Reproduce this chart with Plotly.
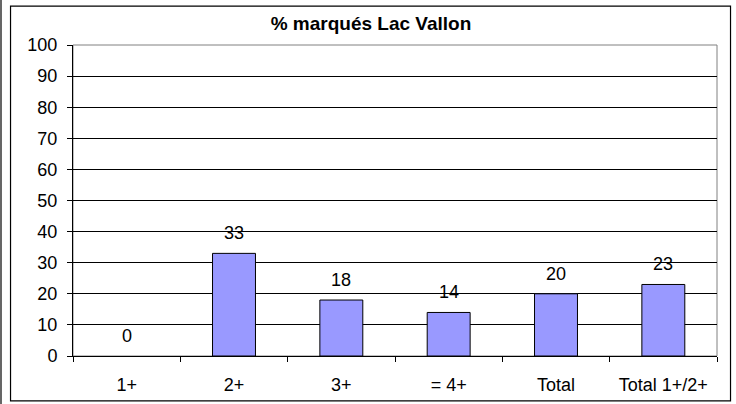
import plotly.graph_objects as go

categories = ["1+", "2+", "3+", "= 4+", "Total", "Total 1+/2+"]
values = [0, 33, 18, 14, 20, 23]
y_ticks = [0, 10, 20, 30, 40, 50, 60, 70, 80, 90, 100]

FONT = "Liberation Sans, Arial, sans-serif"
TEXT_SIZE = 18

fig = go.Figure()
fig.add_trace(go.Bar(
    x=categories,
    y=values,
    marker=dict(
        color="#9999FF",
        # empty bars get no outline
        line=dict(color="#000000", width=[1 if v > 0 else 0 for v in values]),
    ),
    width=0.4,
    hoverinfo="x+y",
))

# value labels above each bar
for c, v in zip(categories, values):
    fig.add_annotation(
        x=c, y=v, text=str(v), showarrow=False,
        yanchor="middle", yshift=20,
        font=dict(family=FONT, size=TEXT_SIZE, color="#000000"),
    )

shapes = [
    # plot-area border (grey)
    dict(type="rect", xref="paper", yref="paper", x0=0, x1=1, y0=0, y1=1,
         line=dict(color="#808080", width=1), layer="below"),
    # outer chart frame
    dict(type="rect", xref="paper", yref="paper",
         x0=-0.0970, x1=1.0210, y0=-0.1445, y1=1.1252,
         line=dict(color="#000000", width=1.2), layer="below"),
    # page edge line on the far left
    dict(type="line", xref="paper", yref="paper",
         x0=-0.1118, x1=-0.1118, y0=-0.16, y1=1.16,
         line=dict(color="#000000", width=1.2)),
]

fig.update_layout(
    width=736, height=404,
    margin=dict(l=73, r=19, t=45, b=47.5),
    paper_bgcolor="#FFFFFF",
    plot_bgcolor="#FFFFFF",
    showlegend=False,
    title=dict(
        text="<b>% marqués Lac Vallon</b>",
        x=371 / 736, xref="container", xanchor="center",
        y=1 - 23 / 404, yref="container", yanchor="middle",
        font=dict(family=FONT, size=19, color="#000000"),
        automargin=False,
    ),
    font=dict(family=FONT, size=TEXT_SIZE, color="#000000"),
    shapes=shapes,
    xaxis=dict(
        type="category",
        automargin=False,
        tickson="boundaries",
        ticks="outside", ticklen=5, tickcolor="#000000",
        showline=True, linecolor="#000000", linewidth=1,
        showgrid=False,
        ticklabelstandoff=12,
        tickfont=dict(family=FONT, size=TEXT_SIZE),
    ),
    yaxis=dict(
        range=[0, 100],
        automargin=False,
        tickvals=y_ticks,
        ticks="outside", ticklen=5, tickcolor="#000000",
        showline=True, linecolor="#000000", linewidth=1,
        showgrid=True, gridcolor="#000000", gridwidth=1,
        zeroline=False,
        ticklabelstandoff=6,
        tickfont=dict(family=FONT, size=TEXT_SIZE),
    ),
    bargap=0.6,
)

fig.write_html("out.html")
